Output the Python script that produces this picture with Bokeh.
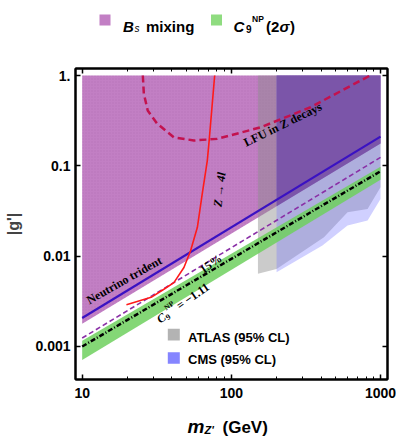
import math
from bokeh.plotting import figure
from bokeh.layouts import column
from bokeh.models import Range1d, LogAxis, FixedTicker, Label, BoxAnnotation
from bokeh.embed import file_html
from bokeh.resources import INLINE

# ---------------- data ----------------
m_edges = [10, 1000]                 # GeV
bs_lower = [0.00178, 0.177]          # lower edge of Bs-mixing region
g_top = 1.0
trident = [0.00207, 0.211]           # neutrino trident bound
c9_15pct = [0.00124, 0.124]          # 15% line
c9_central = [0.00100, 0.0871]       # C9^NP = -1.11
c9_upper = [0.00116, 0.098]          # 2 sigma band
c9_lower = [0.00071, 0.070]

atlas_m = [150.8, 201, 418, 601, 819, 1000]
atlas_g = [0.00637, 0.00723, 0.0162, 0.0306, 0.0334, 0.058]
cms_m = [201, 408, 601, 819, 1000]
cms_g = [0.00663, 0.0131, 0.0218, 0.0248, 0.0431]

z4l_m = [19.8, 29, 35.3, 41.2, 48.1, 53.3, 59.2, 63.8, 69, 71, 77.3]
z4l_g = [0.0029, 0.0035, 0.0043, 0.0051, 0.0075, 0.0115, 0.0209, 0.049, 0.1145, 0.19, 1.0]

lfu_m = [25.5, 25.9, 27.5, 31.8, 41.2, 56.1, 80.5, 157, 340, 850]
lfu_g = [1.0, 0.632, 0.41, 0.294, 0.207, 0.191, 0.199, 0.267, 0.446, 1.0]

x_ticks = [10, 100, 1000]
x_tick_labels = ["10", "100", "1000"]
y_ticks = [0.001, 0.01, 0.1, 1.0]
y_tick_labels = ["0.001", "0.01", "0.1", "1."]

# ---------------- helpers ----------------
def loglin(x, xs, ys):
    t = (math.log10(x) - math.log10(xs[0])) / (math.log10(xs[1]) - math.log10(xs[0]))
    return 10 ** (math.log10(ys[0]) + t * (math.log10(ys[1]) - math.log10(ys[0])))

x_minor = [k * 10 ** e for e in (1, 2) for k in range(2, 10)]

W = 396
FRAME_L, FRAME_R = 75, 387
TOP_H, MAIN_H, BOT_H = 56, 349, 32
FONT = "Liberation Sans"
SERIF = "Liberation Serif"

# ---------------- main figure ----------------
p = figure(width=W, height=MAIN_H, x_axis_type="log", y_axis_type="log",
           x_range=Range1d(9.02, 1114), y_range=Range1d(0.000431, 1.197),
           output_backend="svg", toolbar_location=None, title=None,
           min_border_left=FRAME_L, min_border_right=W - FRAME_R,
           min_border_top=12, min_border_bottom=26)
p.xgrid.visible = False
p.ygrid.visible = False
p.outline_line_color = "black"
p.outline_line_width = 2
p.background_fill_color = "white"

bottom_ax = p.below[0]
left_ax = p.left[0]
bottom_ax.ticker = FixedTicker(ticks=x_ticks, minor_ticks=x_minor)
bottom_ax.major_label_overrides = {t: l for t, l in zip(x_ticks, x_tick_labels)}
left_ax.ticker = FixedTicker(ticks=y_ticks, minor_ticks=[])
left_ax.major_label_overrides = {t: l for t, l in zip(y_ticks, y_tick_labels)}
left_ax.axis_label = "|g'|"
left_ax.axis_label_text_font = FONT
left_ax.axis_label_text_font_style = "bold"
left_ax.axis_label_text_font_size = "16px"
left_ax.axis_label_standoff = 10

top_ax = LogAxis(ticker=FixedTicker(ticks=x_ticks, minor_ticks=x_minor),
                 major_label_standoff=0)
right_ax = LogAxis(ticker=FixedTicker(ticks=y_ticks, minor_ticks=[]),
                   major_label_standoff=0)
p.add_layout(top_ax, "above")
p.add_layout(right_ax, "right")

for ax in (bottom_ax, left_ax, top_ax, right_ax):
    ax.axis_line_width = 2
    ax.major_tick_in = 5
    ax.major_tick_out = 0
    ax.minor_tick_in = 3
    ax.minor_tick_out = 0
    ax.major_tick_line_width = 1.5
    ax.major_label_text_font = FONT
    ax.major_label_text_font_style = "bold"
    ax.major_label_text_color = "black"
for ax in (top_ax, right_ax):
    ax.major_label_text_font_size = "1px"
    ax.major_label_text_alpha = 0.0
bottom_ax.major_label_text_font_size = "14px"
left_ax.major_label_text_font_size = "14px"
bottom_ax.major_label_standoff = 8
left_ax.major_label_standoff = 5

# ---------------- regions ----------------
BS_COL = "#c27fc4"
p.patch([m_edges[0], m_edges[1], m_edges[1], m_edges[0]],
        [g_top, g_top, bs_lower[1], bs_lower[0]],
        fill_color=BS_COL, fill_alpha=1.0, line_color=None,
        hatch_pattern=".", hatch_scale=3, hatch_color="#a261a6", hatch_alpha=0.35, hatch_weight=0.6)

p.patch(atlas_m + [atlas_m[-1], atlas_m[0]], atlas_g + [g_top, g_top],
        fill_color="#8c8c8c", fill_alpha=0.45, line_color=None)
p.patch(cms_m + [cms_m[-1], cms_m[0]], cms_g + [g_top, g_top],
        fill_color="#7878ff", fill_alpha=0.35, line_color=None)

# overlap of Bs mixing with CMS exclusion
ov_lo = loglin(cms_m[0], m_edges, bs_lower)
ov_hi = loglin(cms_m[-1], m_edges, bs_lower)
p.patch([cms_m[0], cms_m[-1], cms_m[-1], cms_m[0]], [g_top, g_top, ov_hi, ov_lo],
        fill_color="#7b55a9", fill_alpha=1.0, line_color=None)

# C9 2 sigma band
p.patch([m_edges[0], m_edges[1], m_edges[1], m_edges[0]],
        [c9_upper[0], c9_upper[1], c9_lower[1], c9_lower[0]],
        fill_color="#6fd05e", fill_alpha=0.85, line_color=None)

# ---------------- lines ----------------
p.line(m_edges, c9_central, line_color="black", line_width=2.5, line_dash="5 2 1 2")
p.line(m_edges, c9_15pct, line_color="#8a2fa6", line_width=1.6, line_dash="5 3")
p.line(m_edges, trident, line_color="#3a12c2", line_width=2.2)
p.line(lfu_m, lfu_g, line_color="#c3124e", line_width=2.5, line_dash="7 4")
p.line(z4l_m, z4l_g, line_color="#ff1a1a", line_width=1.6)

# ---------------- text inside the frame ----------------
FB = 379  # frame bottom in page pixels


def lab(text, px, py, size, style="bold", font=FONT, align="left",
        baseline="alphabetic", angle=0.0, color="black"):
    p.add_layout(Label(x=px - FRAME_L, y=FB - py, x_units="screen", y_units="screen",
                       text=text, text_font=font, text_font_size=f"{size}px",
                       text_font_style=style, text_align=align,
                       text_baseline=baseline, angle=angle, text_color=color))


def box(x0, y0, x1, y1, color):
    p.add_layout(BoxAnnotation(left=x0 - FRAME_L, right=x1 - FRAME_L, top=FB - y0, bottom=FB - y1,
                               left_units="screen", right_units="screen",
                               top_units="screen", bottom_units="screen",
                               fill_color=color, fill_alpha=1.0, line_color=None))


# bottom legend (inside the frame)
box(167.3, 328.3, 179.3, 340, "#b3b3b3")
lab("ATLAS (95% CL)", 187.5, 336.7, 13, baseline="middle")
box(167.3, 351.7, 179.3, 363.3, "#8585ff")
lab("CMS (95% CL)", 187.5, 359.3, 13, baseline="middle")

lab("LFU in Z decays", 282.3, 124, 12, font=SERIF, align="center", baseline="middle", angle=0.454)
lab("Z \u2192 4l", 219, 189, 12, "bold italic", font=SERIF, align="center", baseline="middle", angle=1.45)
lab("Neutrino  trident", 125, 279, 12, font=SERIF, align="center", baseline="middle", angle=0.515)
lab("15%", 210.3, 263.3, 12, font=SERIF, align="center", baseline="middle", angle=0.60)

a = 0.61
bx, by = 157.5 - FRAME_L, FB - 320


def rlab(text, along, perp, size, style="bold"):
    sx = bx + along * math.cos(a) - perp * math.sin(a)
    sy = by + along * math.sin(a) + perp * math.cos(a)
    p.add_layout(Label(x=sx, y=sy, x_units="screen", y_units="screen", text=text,
                       text_font=SERIF, text_font_size=f"{size}px", text_font_style=style,
                       text_align="left", text_baseline="alphabetic", angle=a,
                       text_color="black"))


rlab("C", 0, 0, 12, "bold italic")
rlab("9", 8.5, -2.5, 8)
rlab("NP", 12.5, 6, 7.5)
rlab("= \u22121.11", 24, 0, 12)


# ---------------- strips above and below (data = page pixel coordinates) ----------------
def strip(h, y0):
    f = figure(width=W, height=h, x_range=Range1d(FRAME_L, FRAME_R), y_range=Range1d(y0 + h, y0),
               output_backend="svg", toolbar_location=None, title=None,
               x_axis_location=None, y_axis_location=None,
               min_border_left=FRAME_L, min_border_right=W - FRAME_R,
               min_border_top=0, min_border_bottom=0)
    f.xgrid.visible = False
    f.ygrid.visible = False
    f.outline_line_color = None
    return f


def slab(f, text, px, py, size, style="bold", font=FONT, align="left", baseline="alphabetic"):
    f.add_layout(Label(x=px, y=py, text=text, text_font=font, text_font_size=f"{size}px",
                       text_font_style=style, text_align=align, text_baseline=baseline,
                       text_color="black"))


def sbox(f, x0, y0, x1, y1, color):
    f.add_layout(BoxAnnotation(left=x0, right=x1, top=y0, bottom=y1,
                               fill_color=color, fill_alpha=1.0, line_color=None))


top_fig = strip(TOP_H, 0)
sbox(top_fig, 99, 14, 110, 25, BS_COL)
slab(top_fig, "B", 122.5, 26, 15, "bold italic")
slab(top_fig, "s", 134, 28, 10, "italic")
slab(top_fig, "mixing", 145.5, 26, 15)
sbox(top_fig, 210.5, 14, 221.5, 25, "#8fdc80")
slab(top_fig, "C", 233, 26, 15, "bold italic")
slab(top_fig, "9", 245.5, 28, 10)
slab(top_fig, "NP", 251.5, 18.5, 8.5)
slab(top_fig, "(2", 265.5, 26, 15)
slab(top_fig, "\u03c3", 279, 26, 15, "bold italic")
slab(top_fig, ")", 289.5, 26, 15)

y_bot = TOP_H + MAIN_H
bot_fig = strip(BOT_H, y_bot)
slab(bot_fig, "m", 187, 426, 19, "bold italic")
slab(bot_fig, "Z'", 204, 429, 11, "bold italic")
slab(bot_fig, "(GeV)", 222, 427, 17)

layout = column(top_fig, p, bot_fig, spacing=0)
open("out.html", "w").write(file_html(layout, INLINE))
